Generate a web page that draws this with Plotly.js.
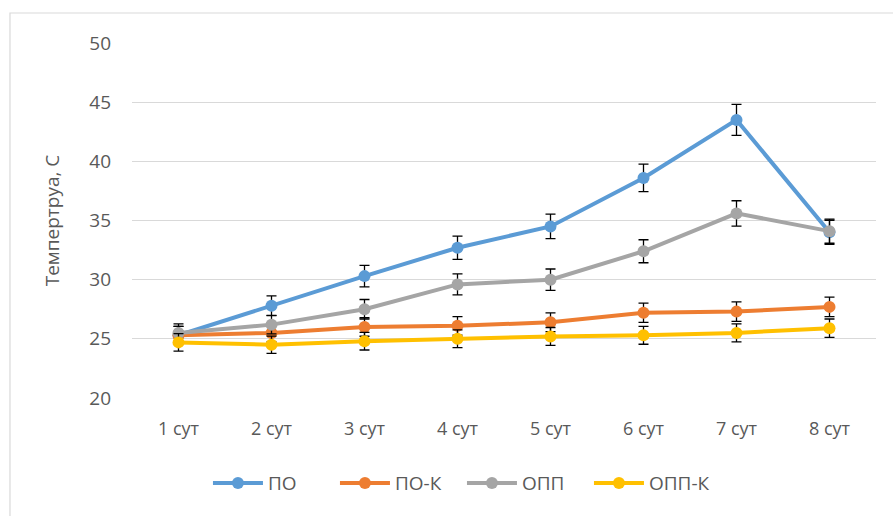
<!DOCTYPE html>
<html>
<head>
<meta charset="utf-8">
<script src="https://cdn.plot.ly/plotly-3.0.1.min.js"></script>
<style>
html,body{margin:0;padding:0;background:#fff;}
#chart{width:893px;height:516px;}
</style>
</head>
<body>
<div id="chart"></div>
<script>
const categories = ["1 сут","2 сут","3 сут","4 сут","5 сут","6 сут","7 сут","8 сут"];
const seriesNames = ["ПО","ПО-К","ОПП","ОПП-К"];
const po    = [25.3, 27.8, 30.3, 32.7, 34.5, 38.6, 43.5, 34.0];
const poK   = [25.3, 25.5, 26.0, 26.1, 26.4, 27.2, 27.3, 27.7];
const opp   = [25.5, 26.2, 27.5, 29.6, 30.0, 32.4, 35.6, 34.1];
const oppK  = [24.7, 24.5, 24.8, 25.0, 25.2, 25.3, 25.5, 25.9];
const errorPercent = 3;
const yTicks = [20, 25, 30, 35, 40, 45, 50];
const colors = ["#5B9BD5", "#ED7D31", "#A5A5A5", "#FFC000"];

const allValues = [po, poK, opp, oppK];
const traces = allValues.map((vals, i) => ({
  type: "scatter",
  mode: "lines+markers",
  name: seriesNames[i],
  x: categories,
  y: vals,
  line: {color: colors[i], width: 4},
  marker: {color: colors[i], size: 12},
  error_y: {type: "percent", value: errorPercent, visible: true, color: "#000000", thickness: 1.3, width: 5}
}));

const layout = {
  width: 893, height: 516,
  margin: {l: 132, r: 17, t: 43, b: 118},
  paper_bgcolor: "#ffffff",
  plot_bgcolor: "#ffffff",
  font: {family: "Open Sans, Liberation Sans, sans-serif", color: "#595959", size: 18},
  showlegend: true,
  legend: {
    orientation: "h", x: 0.4435, xanchor: "center", y: -0.24, yanchor: "middle",
    font: {size: 19, color: "#595959"}, traceorder: "normal", itemwidth: 50,
    entrywidth: 62, entrywidthmode: "pixels"
  },
  xaxis: {
    type: "category",
    range: [-0.5, 7.5],
    showgrid: false, zeroline: false, showline: false,
    ticks: "", tickfont: {size: 18, color: "#595959"},
    ticklabelstandoff: 18,
    fixedrange: true
  },
  yaxis: {
    range: [20, 50],
    tickvals: yTicks,
    showgrid: true, gridcolor: "#D9D9D9", gridwidth: 1,
    zeroline: false, showline: false, ticks: "",
    tickfont: {size: 19, color: "#595959"},
    ticklabelstandoff: 20,
    title: {text: "Темпертруа, С", font: {size: 19, color: "#595959"}, standoff: 24},
    fixedrange: true
  },
  shapes: [{
    type: "rect", xref: "paper", yref: "paper",
    x0: -0.164, x1: 1.3, y0: -0.6, y1: 1.0845,
    line: {color: "#D9D9D9", width: 1.2}, fillcolor: "rgba(0,0,0,0)", layer: "below"
  }]
};

Plotly.newPlot("chart", traces, layout, {displayModeBar: false, staticPlot: true});
</script>
</body>
</html>
